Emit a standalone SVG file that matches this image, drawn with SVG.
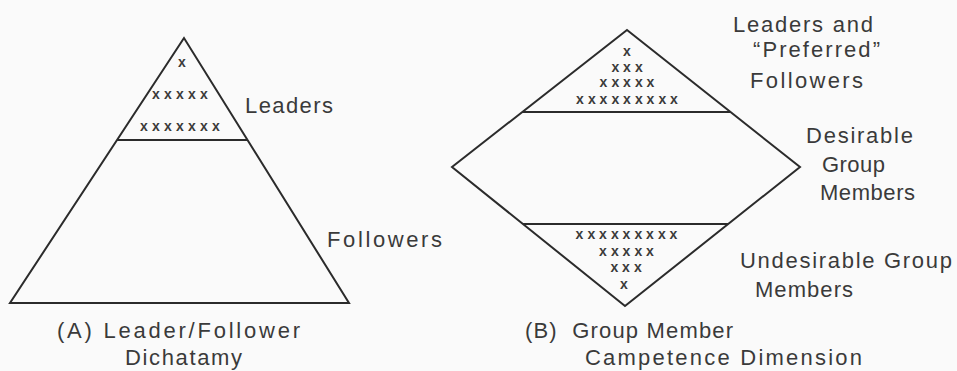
<svg xmlns="http://www.w3.org/2000/svg" width="957" height="371" viewBox="0 0 957 371">
<style>
.shape{fill:none;stroke:#2b2b2b;stroke-width:2;stroke-linejoin:miter}
.lbl{font-family:"Liberation Sans",Arial,sans-serif;font-size:22px;fill:#3a3a3a}
.xs{font-family:"Liberation Sans",Arial,sans-serif;font-size:14px;font-weight:bold;fill:#3a3a3a}
</style>
<rect width="957" height="371" fill="#fafafa"/>
<g id="pyramidA">
<polygon class="shape" points="184,38 10,303 349,303"/>
<line class="shape" x1="117" y1="140" x2="247" y2="140"/>
<text class="xs" x="178.1" y="66.8">x</text>
<text class="xs" x="152.1 164.1 176.1 188.1 200.1" y="98.7">xxxxx</text>
<text class="xs" x="140.1 152.1 164.1 176.1 188.1 200.1 212.1" y="130.7">xxxxxxx</text>
</g>
<g id="labelsA">
<text class="lbl" x="245" y="113" textLength="88" lengthAdjust="spacing">Leaders</text>
<text class="lbl" x="327" y="247" textLength="115" lengthAdjust="spacing">Followers</text>
<text class="lbl" x="57" y="338" textLength="243" lengthAdjust="spacing">(A) Leader/Follower</text>
<text class="lbl" x="125" y="365" textLength="117" lengthAdjust="spacing">Dichatamy</text>
</g>
<g id="diamondB">
<polygon class="shape" points="627,30 800,167 625,306 452,167"/>
<line class="shape" x1="522" y1="112" x2="730" y2="112"/>
<line class="shape" x1="523" y1="224" x2="728" y2="224"/>
<text class="xs" x="623.1" y="55.7">x</text>
<text class="xs" x="611.4 623.1 634.9" y="71.7">xxx</text>
<text class="xs" x="599.6 611.4 623.1 634.9 646.6" y="86.7">xxxxx</text>
<text class="xs" x="576.1 587.9 599.6 611.4 623.1 634.9 646.6 658.4 670.1" y="103.7">xxxxxxxxx</text>
<text class="xs" x="575.6 587.4 599.1 610.9 622.6 634.4 646.1 657.9 669.6" y="238.7">xxxxxxxxx</text>
<text class="xs" x="599.1 610.9 622.6 634.4 646.1" y="255.7">xxxxx</text>
<text class="xs" x="610.4 622.1 633.9" y="271.7">xxx</text>
<text class="xs" x="620.1" y="288.7">x</text>
</g>
<g id="labelsB">
<text class="lbl" x="733" y="32" textLength="140" lengthAdjust="spacing">Leaders and</text>
<text class="lbl" x="753" y="57" textLength="127" lengthAdjust="spacing">“Preferred”</text>
<text class="lbl" x="750" y="88" textLength="113" lengthAdjust="spacing">Followers</text>
<text class="lbl" x="806" y="143" textLength="107" lengthAdjust="spacing">Desirable</text>
<text class="lbl" x="822" y="172" textLength="63" lengthAdjust="spacing">Group</text>
<text class="lbl" x="820" y="200" textLength="95" lengthAdjust="spacing">Members</text>
<text class="lbl" x="740" y="268" textLength="212" lengthAdjust="spacing">Undesirable Group</text>
<text class="lbl" x="755" y="297" textLength="98" lengthAdjust="spacing">Members</text>
<text class="lbl" x="525" y="338" textLength="208" lengthAdjust="spacing" xml:space="preserve">(B)  Group Member</text>
<text class="lbl" x="585" y="365" textLength="277" lengthAdjust="spacing">Campetence Dimension</text>
</g>
</svg>
